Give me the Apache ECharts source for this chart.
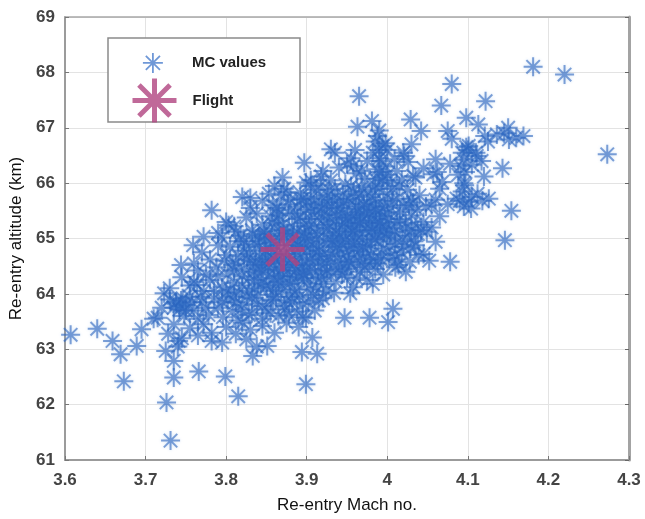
<!DOCTYPE html>
<html>
<head>
<meta charset="utf-8">
<script src="https://cdn.jsdelivr.net/npm/echarts@6/dist/echarts.min.js"></script>
<style>
  html, body { margin: 0; padding: 0; background: #fff; }
  #chart { width: 645px; height: 519px; }
</style>
</head>
<body>
<div id="chart"></div>
<script>
// Monte Carlo re-entry conditions: [Mach number, altitude (km)]
const mcPoints = [
  // sparse tails
  [3.607,63.26],[3.640,63.37],[3.659,63.15],[3.669,62.91],[3.673,62.42],[3.689,63.06],[3.695,63.36],
  [3.715,63.57],[3.723,64.01],[3.725,62.97],[3.726,62.04],[3.731,61.35],[3.735,62.79],[3.735,62.49],
  [3.741,63.15],[3.744,64.52],[3.766,62.60],[3.764,64.16],[3.782,65.51],[3.782,63.15],[3.799,62.51],
  [3.815,62.15],[3.803,65.24],[3.772,65.03],[3.759,64.88],[3.830,65.73],[3.853,65.81],[3.833,62.88],
  [3.851,63.06],[3.894,62.95],[3.899,62.37],[3.907,63.21],[3.913,62.92],[3.899,63.57],[3.947,63.57],
  [3.978,63.57],[4.001,63.49],[4.007,63.73],[3.954,64.01],[3.897,66.37],[3.930,66.61],[3.920,66.22],
  [3.965,67.57],[3.963,67.02],[3.981,67.12],[3.988,66.85],[3.994,66.67],[4.029,67.15],[4.042,66.94],
  [4.067,67.40],[4.080,67.79],[4.075,66.94],[4.098,67.18],[4.113,67.06],[4.122,67.48],[4.121,66.85],
  [4.136,66.88],[4.150,67.00],[4.151,66.79],[4.169,66.85],[4.181,68.10],[4.220,67.96],[4.273,66.52],
  [4.143,66.27],[4.154,65.50],[4.146,64.97],[4.126,65.72],[4.078,64.58],[4.023,64.40],[4.060,66.43],
  [4.101,66.67],[4.111,66.49],[4.091,66.31],[4.096,65.96],[4.086,65.72],[4.104,65.54],[4.101,65.66],
  [4.112,65.81],[4.055,65.60],[4.057,66.16],[4.032,66.13],[4.021,66.49],[4.009,66.43],[4.004,66.01],
  [4.029,65.72],[4.049,65.12],[4.060,64.94],[4.029,64.82],[4.009,64.70],[4.014,64.52],[4.039,64.70],
  [3.958,66.31],[3.968,66.22],[3.950,66.34],[3.935,65.90],[3.917,65.96],[3.899,66.01],[3.876,65.84],
  // 66.5 - 67 km
  [3.935,66.55],[3.960,66.60],[3.985,66.75],[4.000,66.60],[4.020,66.55],[4.030,66.70],[4.080,66.80],
  [4.100,66.60],[4.110,66.55],[4.125,66.75],[4.145,66.90],[4.160,66.82],[3.990,66.95],
  [4.093,65.85],[4.095,66.00],[4.097,66.20],[4.093,66.55],[4.098,66.65],
  [3.990,66.60],[3.992,66.40],[3.988,66.25],[3.995,66.10],[3.985,65.95],[3.998,66.72],[3.982,66.55],
  // 66 - 66.5 km
  [3.905,66.05],[3.918,66.12],[3.940,66.28],[3.962,66.18],[3.975,66.40],[3.985,66.08],[3.998,66.30],
  [4.012,66.22],[4.018,66.05],[4.026,66.38],[4.035,66.10],[4.045,66.27],[4.062,66.20],[4.068,66.02],
  [4.088,66.15],[4.095,66.42],[4.105,66.33],[4.117,66.40],[4.120,66.12],[4.078,66.35],[3.955,66.45],
  [3.990,66.45],[4.000,66.15],[3.930,66.05],[3.870,66.10],[3.990,66.20],
  // 65.5 - 66 km
  [3.830,65.55],[3.845,65.68],[3.858,65.60],[3.866,65.52],[3.872,65.90],[3.880,65.70],[3.888,65.58],
  [3.892,65.82],[3.900,65.65],[3.905,65.95],[3.910,65.52],[3.915,65.75],[3.922,65.60],[3.928,65.88],
  [3.932,65.70],[3.938,65.55],[3.945,65.80],[3.950,65.62],[3.955,65.95],[3.960,65.70],[3.965,65.53],
  [3.970,65.85],[3.975,65.65],[3.980,65.75],[3.985,65.58],[3.990,65.90],[3.995,65.68],[4.000,65.80],
  [4.005,65.55],[4.012,65.72],[4.020,65.60],[4.025,65.88],[4.032,65.65],[4.040,65.78],[4.048,65.58],
  [4.060,65.70],[4.065,65.90],[4.075,65.62],[4.090,65.68],[4.095,65.58],[4.105,65.75],[4.118,65.68],
  [3.868,65.78],[3.948,65.98],[4.015,65.95],[3.860,65.95],[3.820,65.75],
  [3.958,65.85],[3.968,65.92],[3.982,65.88],[3.994,66.05],[4.006,65.90],[3.972,66.08],[3.952,65.72],
  [3.926,65.78],[3.912,65.88],[3.896,65.72],[3.938,65.72],[3.965,65.78],[3.985,65.70],
  // 65 - 65.5 km
  [3.790,65.10],[3.800,65.30],[3.810,65.22],[3.818,65.05],[3.825,65.38],[3.832,65.15],[3.838,65.45],
  [3.845,65.25],[3.850,65.08],[3.855,65.40],[3.860,65.18],[3.865,65.32],[3.872,65.05],[3.878,65.45],
  [3.882,65.22],[3.888,65.12],[3.892,65.38],[3.898,65.28],[3.902,65.02],[3.906,65.48],[3.910,65.20],
  [3.915,65.35],[3.920,65.10],[3.925,65.42],[3.928,65.25],[3.932,65.05],[3.936,65.32],[3.940,65.18],
  [3.944,65.45],[3.948,65.28],[3.952,65.08],[3.956,65.38],[3.960,65.20],[3.964,65.48],[3.968,65.12],
  [3.972,65.30],[3.976,65.22],[3.980,65.05],[3.984,65.40],[3.988,65.15],[3.992,65.32],[3.996,65.10],
  [4.000,65.45],[4.005,65.25],[4.010,65.05],[4.015,65.35],[4.022,65.18],[4.030,65.42],[4.038,65.08],
  [4.045,65.30],[4.055,65.20],[4.065,65.40],[3.940,65.00],[3.970,65.38],[3.955,65.15],[3.985,65.25],
  [3.918,65.45],[3.900,65.15],[3.870,65.25],[3.840,65.02],[3.962,65.32],[3.978,65.48],[3.994,65.20],
  [3.948,65.35],
  [3.955,65.25],[3.962,65.05],[3.967,65.42],[3.974,65.15],[3.982,65.32],[3.987,65.08],[3.993,65.40],
  [3.998,65.18],[3.944,65.22],[3.936,65.12],[3.928,65.38],[3.921,65.25],[3.905,65.35],[3.897,65.10],
  [3.876,65.10],[4.000,65.10],[4.012,65.30],[4.025,65.05],[4.035,65.25],[3.990,65.50],[3.975,65.55],
  [3.960,65.42],[3.942,65.55],[3.925,65.65],[3.905,65.72],[3.885,65.45],[3.865,65.42],[4.030,65.15],
  [3.833,65.08],[3.848,65.05],[3.867,65.05],[3.884,65.08],[3.795,65.02],[3.812,65.12],
  // densest core, 64.3 - 65.7 km
  [3.842,64.95],[3.847,65.12],[3.853,64.35],[3.857,65.28],[3.861,64.88],[3.863,65.55],[3.867,64.42],
  [3.871,65.15],[3.874,64.65],[3.877,65.62],[3.879,64.32],[3.883,65.02],[3.886,64.78],[3.889,65.35],
  [3.891,64.48],[3.893,65.70],[3.896,64.92],[3.899,65.52],[3.901,64.38],[3.903,65.22],[3.907,64.82],
  [3.909,65.62],[3.911,64.28],[3.913,65.08],[3.916,64.68],[3.919,65.55],[3.921,64.95],[3.923,64.35],
  [3.926,65.18],[3.929,64.62],[3.931,65.58],[3.933,64.88],[3.937,65.42],[3.939,64.45],[3.941,65.05],
  [3.943,64.72],[3.946,65.65],[3.949,64.92],[3.951,65.38],[3.953,64.58],[3.957,65.12],[3.959,64.82],
  [3.961,65.58],[3.963,64.68],[3.966,65.28],[3.969,64.98],[3.971,65.62],[3.973,64.75],[3.977,65.45],
  [3.979,64.88],[3.981,65.15],[3.983,64.62],[3.986,65.52],[3.989,64.95],[3.991,65.28],[3.993,64.72],
  [3.997,65.58],[3.999,65.02],[4.002,65.35],[4.004,64.85],[4.007,65.68],[4.009,65.12],[4.012,64.62],
  [4.016,65.48],[4.019,64.98],[4.023,65.28],[4.027,65.60],[4.033,64.95],[4.037,65.52],[4.042,65.15],
  // 64.5 - 65 km
  [3.760,64.55],[3.770,64.75],[3.780,64.62],[3.790,64.88],[3.800,64.70],[3.808,64.52],[3.815,64.95],
  [3.822,64.78],[3.830,64.60],[3.836,64.90],[3.842,64.68],[3.848,64.55],[3.855,64.82],[3.860,64.62],
  [3.866,64.98],[3.872,64.72],[3.878,64.58],[3.884,64.88],[3.890,64.65],[3.895,64.52],[3.900,64.78],
  [3.905,64.95],[3.910,64.60],[3.915,64.85],[3.920,64.70],[3.925,64.55],[3.930,64.92],[3.935,64.75],
  [3.940,64.60],[3.945,64.85],[3.950,64.68],[3.955,64.52],[3.960,64.95],[3.965,64.78],[3.970,64.62],
  [3.975,64.88],[3.980,64.70],[3.988,64.55],[3.995,64.82],[4.002,64.65],[4.010,64.90],[4.018,64.75],
  [4.028,64.58],[4.035,64.88],[4.045,64.72],[4.052,64.60],[3.825,64.88],[3.858,64.72],[3.888,64.98],
  [3.918,64.52],[3.948,64.98],[3.978,64.55],[3.908,64.72],[3.938,64.85],[3.868,64.55],[3.798,64.60],
  [3.958,64.90],[3.912,64.98],[3.889,64.88],[3.882,64.68],[3.894,64.72],[3.915,64.78],[3.932,64.95],
  [3.952,64.78],[3.970,64.85],[3.985,64.98],[3.855,64.98],[3.850,64.65],[3.900,64.55],[3.948,64.45],
  [3.968,64.55],[3.992,64.62],[4.020,64.85],
  [3.822,64.95],[3.828,64.72],[3.837,64.58],[3.841,64.85],[3.852,64.62],[3.856,64.92],[3.863,64.72],
  [3.875,64.88],[3.879,64.52],[3.892,64.85],[3.898,65.02],[3.815,64.68],[3.805,64.85],[3.845,64.52],
  // 64 - 64.5 km
  [3.730,64.10],[3.745,64.30],[3.755,64.15],[3.765,64.42],[3.772,64.05],[3.780,64.25],[3.788,64.48],
  [3.795,64.12],[3.802,64.35],[3.810,64.20],[3.816,64.02],[3.822,64.45],[3.828,64.28],[3.835,64.10],
  [3.840,64.38],[3.846,64.20],[3.852,64.48],[3.858,64.05],[3.864,64.32],[3.870,64.15],[3.876,64.42],
  [3.882,64.25],[3.888,64.08],[3.894,64.38],[3.900,64.20],[3.906,64.45],[3.912,64.12],[3.918,64.30],
  [3.924,64.05],[3.930,64.40],[3.936,64.22],[3.942,64.48],[3.950,64.30],[3.958,64.12],[3.966,64.40],
  [3.975,64.25],[3.985,64.45],[3.995,64.35],[4.010,64.48],[3.860,64.45],[3.820,64.15],[3.890,64.30],
  [3.760,64.22],[3.800,64.02],
  [3.850,64.15],[3.862,64.60],[3.868,64.08],[3.879,64.18],[3.885,64.52],[3.897,64.28],[3.904,64.62],
  [3.914,64.42],[3.921,64.18],[3.927,64.68],[3.934,64.02],[3.944,64.35],[3.952,64.58],[3.962,64.28],
  [3.972,64.48],[3.982,64.18],[3.820,64.32],[3.826,64.62],[3.836,64.52],[3.843,64.18],[3.849,64.78],
  [3.834,64.40],[3.812,64.55],[3.828,64.05],[3.870,64.32],[3.925,64.42],
  [3.844,64.42],[3.859,64.28],[3.871,64.48],[3.887,64.42],[3.896,64.35],[3.835,64.25],[3.855,64.12],
  [3.865,64.22],[3.885,64.02],[3.905,64.08],[3.805,64.08],[3.785,64.05],[3.790,64.32],[3.810,64.42],
  [3.775,64.35],
  // 63.5 - 64 km
  [3.710,63.55],[3.720,63.75],[3.730,63.90],[3.738,63.82],[3.742,63.78],[3.748,63.60],[3.755,63.95],
  [3.760,63.70],[3.765,63.55],[3.770,63.85],[3.778,63.62],[3.785,63.92],[3.790,63.75],[3.796,63.58],
  [3.802,63.88],[3.808,63.68],[3.815,63.52],[3.820,63.80],[3.826,63.95],[3.832,63.65],[3.838,63.82],
  [3.845,63.55],[3.850,63.72],[3.858,63.90],[3.865,63.60],[3.872,63.78],[3.880,63.95],[3.888,63.68],
  [3.895,63.58],[3.902,63.85],[3.910,63.70],[3.920,63.92],[3.735,63.75],[3.750,63.80],[3.810,63.95],
  [3.840,63.98],[3.856,63.88],[3.873,63.72],[3.891,63.95],[3.908,63.98],[3.832,63.92],[3.818,63.72],
  [3.738,63.85],[3.744,63.88],[3.742,63.72],[3.750,63.70],[3.746,63.92],
  [3.875,63.88],[3.895,63.82],[3.915,63.88],[3.845,63.78],[3.855,63.65],[3.862,63.95],[3.878,63.62],
  [3.882,63.85],[3.828,63.62],[3.812,63.85],[3.795,63.85],[3.775,63.75],[3.768,63.95],[3.758,63.85],
  // 63 - 63.5 km
  [3.735,63.45],[3.745,63.20],[3.755,63.38],[3.765,63.25],[3.772,63.45],[3.782,63.30],[3.795,63.12],
  [3.800,63.40],[3.812,63.28],[3.820,63.48],[3.825,63.18],[3.830,63.35],[3.838,63.05],[3.845,63.42],
  [3.860,63.30],[3.875,63.48],[3.890,63.40],[3.728,63.28],[3.740,63.05]
];

// Recorded flight condition
const flightPoint = [[3.87, 64.8]];

const seriesNames = ['MC values', 'Flight'];

// Eight-armed asterisk, like a "+" overlaid with an "x"
const asterisk = 'path://M0,10L20,10M10,0L10,20M2.93,2.93L17.07,17.07M17.07,2.93L2.93,17.07';

const mcColor = 'rgba(38,95,188,0.72)';
const flightColor = '#b0437f';
const tickFont = { fontFamily: 'Liberation Sans, Arial, sans-serif', fontWeight: 'bold', fontSize: 17, color: '#444' };
const titleFont = { fontFamily: 'Liberation Sans, Arial, sans-serif', fontSize: 17, color: '#111' };
const legendFont = { fontFamily: 'Liberation Sans, Arial, sans-serif', fontWeight: 'bold', fontSize: 15, color: '#222' };

const chart = echarts.init(document.getElementById('chart'), null, { renderer: 'canvas' });

chart.setOption({
  backgroundColor: '#fff',
  animation: false,
  grid: { left: 65, right: 16, top: 17, bottom: 56 },
  xAxis: [
    {
      type: 'value', min: 3.6, max: 4.3, interval: 0.1,
      name: 'Re-entry Mach no.', nameLocation: 'middle', nameGap: 37,
      nameTextStyle: titleFont,
      axisLine: { show: true, onZero: false, lineStyle: { color: '#9b9b9b', width: 2 } },
      axisTick: { show: true, inside: true, length: 4, lineStyle: { color: '#777' } },
      axisLabel: Object.assign({ margin: 12 }, tickFont),
      splitLine: { show: true, lineStyle: { color: '#e3e3e3', width: 1 } }
    },
    {
      type: 'value', min: 3.6, max: 4.3, interval: 0.1, position: 'top',
      axisLine: { show: true, onZero: false, lineStyle: { color: '#a8a8a8', width: 1.5 } },
      axisTick: { show: false }, axisLabel: { show: false }, splitLine: { show: false }
    }
  ],
  yAxis: [
    {
      type: 'value', min: 61, max: 69, interval: 1,
      name: 'Re-entry altitude (km)', nameLocation: 'middle', nameGap: 35,
      nameTextStyle: titleFont,
      axisLine: { show: true, onZero: false, lineStyle: { color: '#9b9b9b', width: 2 } },
      axisTick: { show: true, inside: true, length: 4, lineStyle: { color: '#777' } },
      axisLabel: Object.assign({ margin: 10 }, tickFont),
      splitLine: { show: true, lineStyle: { color: '#e3e3e3', width: 1 } }
    },
    {
      type: 'value', min: 61, max: 69, interval: 1, position: 'right',
      axisLine: { show: true, onZero: false, lineStyle: { color: '#a3a3a3', width: 3 } },
      axisTick: { show: true, inside: true, length: 4, lineStyle: { color: '#666' } },
      axisLabel: { show: false }, splitLine: { show: false }
    }
  ],
  legend: [
    {
      data: [{ name: seriesNames[0], icon: asterisk }],
      left: 142, top: 52, padding: 0, itemWidth: 20, itemHeight: 20,
      itemStyle: { color: 'rgba(0,0,0,0)', borderColor: 'rgba(44,104,196,0.85)', borderWidth: 1.8 },
      textStyle: Object.assign({ padding: [0, 0, 0, 24] }, legendFont),
      selectedMode: false
    },
    {
      data: [{ name: seriesNames[1], icon: asterisk }],
      left: 130, top: 76, padding: 0, itemWidth: 44, itemHeight: 44,
      itemStyle: { color: 'rgba(0,0,0,0)', borderColor: flightColor, borderWidth: 5 },
      textStyle: Object.assign({ padding: [0, 0, 0, 11] }, legendFont),
      selectedMode: false
    }
  ],
  graphic: [
    {
      type: 'rect', z: 3,
      shape: { x: 108, y: 38, width: 192, height: 84 },
      style: { fill: '#fff', stroke: '#8a8a8a', lineWidth: 1.5 }
    }
  ],
  series: [
    {
      name: seriesNames[0], type: 'scatter', data: mcPoints,
      symbol: asterisk, symbolSize: 19, z: 2,
      itemStyle: {
        color: 'rgba(0,0,0,0)', borderColor: mcColor, borderWidth: 2,
        shadowBlur: 3, shadowColor: 'rgba(90,150,225,0.5)'
      },
      emphasis: { disabled: true }
    },
    {
      name: seriesNames[1], type: 'scatter', data: flightPoint,
      symbol: asterisk, symbolSize: 44, z: 5,
      itemStyle: { color: 'rgba(0,0,0,0)', borderColor: flightColor, borderWidth: 5 },
      emphasis: { disabled: true }
    }
  ]
});
</script>
</body>
</html>
